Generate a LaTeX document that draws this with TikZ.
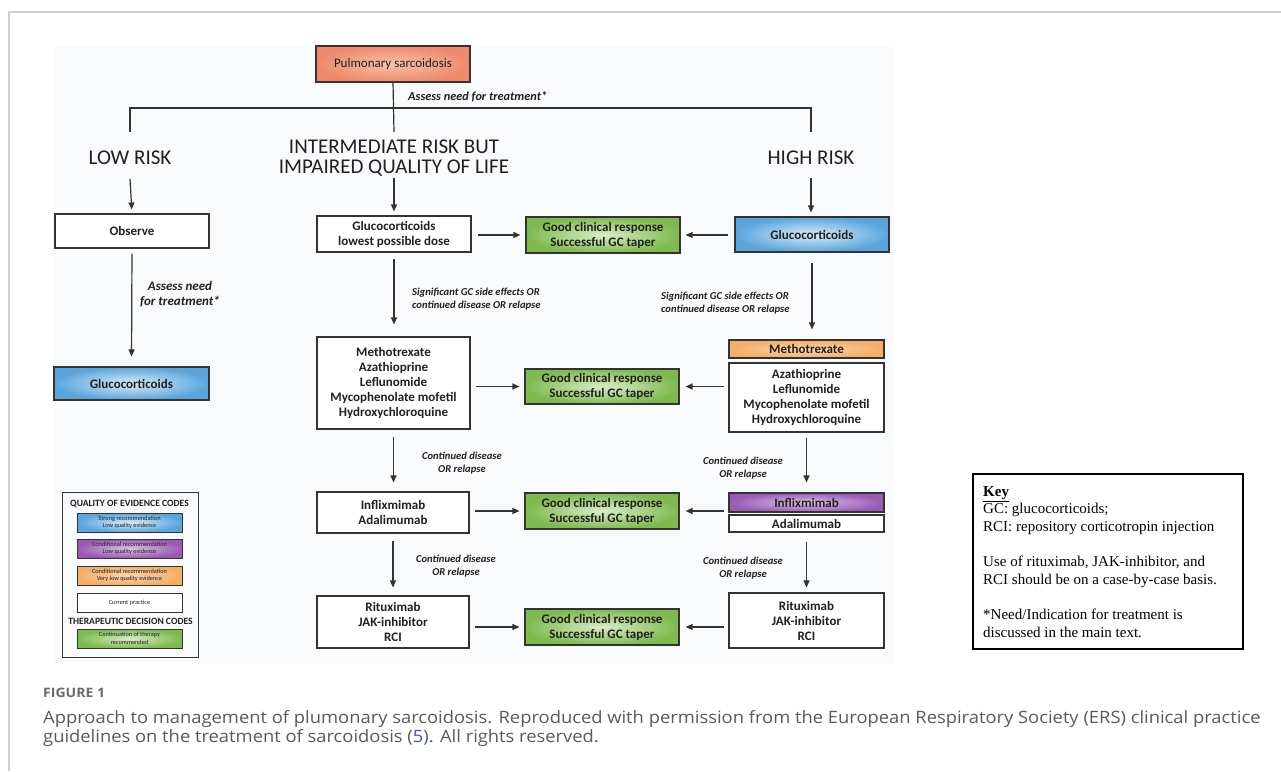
\documentclass[tikz,border=0pt]{standalone}
\usepackage{fontspec}
\setmainfont{Carlito}
\newfontfamily\keyfont{Liberation Serif}
\newfontfamily\capfont[FakeStretch=1.08]{Open Sans}
\usetikzlibrary{arrows.meta}
\newcommand\myfs[2]{\fontsize{#1}{#2}\selectfont}
\definecolor{linec}{HTML}{333333}
\definecolor{txt}{HTML}{231F20}
\definecolor{salO}{HTML}{EE8A6B}\definecolor{salI}{HTML}{F7C2AC}
\definecolor{bluO}{HTML}{5AA5DC}\definecolor{bluI}{HTML}{D9ECF9}
\definecolor{grnO}{HTML}{7EBA4E}\definecolor{grnI}{HTML}{D9EDC8}
\definecolor{orgO}{HTML}{F4AE67}\definecolor{orgI}{HTML}{FAD6B0}
\definecolor{purO}{HTML}{9A5AB4}\definecolor{purI}{HTML}{D9C2E5}
\definecolor{framec}{HTML}{CFCFCF}
\definecolor{capc}{HTML}{5A5A5A}
\definecolor{figc}{HTML}{6A6A6A}
\definecolor{linkc}{HTML}{3D55B8}
\definecolor{bgc}{HTML}{F9FAFB}
\tikzset{
  box/.style={draw=linec, line width=1.1pt, fill=white, text=txt, align=center,
    inner sep=0pt, font=\bfseries\myfs{13}{15}},
  blu/.style={inner color=bluI, outer color=bluO},
  grn/.style={inner color=grnI, outer color=grnO},
  org/.style={inner color=orgI, outer color=orgO},
  pur/.style={inner color=purI, outer color=purO},
  sal/.style={inner color=salI, outer color=salO},
  good/.style={box, grn, minimum width=154, minimum height=36},
  conn/.style={draw=linec, line width=1.2pt},
  arr/.style={conn, -{Triangle[length=7pt,width=6pt]}},
  head/.style={text=txt, align=center, font=\myfs{21}{20}, inner sep=0pt},
  lab/.style={text=txt, font=\bfseries\itshape\myfs{10.6}{13}, inner sep=0pt},
  swatch/.style={draw=linec, line width=0.8pt, minimum width=105, minimum height=19,
    inner sep=0pt, align=center, text=txt, font=\myfs{6.3}{7.5}},
  leghead/.style={text=txt, font=\bfseries\myfs{9.6}{10}, inner sep=0pt}
}
\begin{document}
\begin{tikzpicture}[x=1pt,y=-1pt]
\useasboundingbox (0,0) rectangle (1281,771);
\fill[white] (0,0) rectangle (1281,771);
\draw[framec, line width=1.3pt] (9,771) -- (9,12) -- (1281,12);
\fill[bgc] (53,47) rectangle (893,664);

% top
\node[box, sal, font=\myfs{13}{15}, minimum width=154, minimum height=36] (pulm) at (393,64) {Pulmonary sarcoidosis};
\node[lab, font=\bfseries\itshape\myfs{12.3}{14}, anchor=west] (assess) at (408,97) {Assess need for treatment*};

\node[head] (low) at (130,158) {LOW RISK};
\node[head] (mid) at (394,158) {INTERMEDIATE RISK BUT\\IMPAIRED QUALITY OF LIFE};
\node[head] (high) at (811,158) {HIGH RISK};

\coordinate (split) at (394,108);
\coordinate (midtop) at (394,132);
\coordinate (lowtop) at (130,132);
\coordinate (hightop) at (811,132);
\coordinate (lowb) at (130,179);
\coordinate (midb) at (394,178);
\coordinate (highb) at (811,178);

\draw[conn] (pulm.south) -- (midtop);
\draw[conn] (lowtop) -- (lowtop |- split) -- (hightop |- split) -- (hightop);

% boxes
\node[box, minimum width=154, minimum height=34] (obs) at (132,231) {Observe};
\node[box, blu, minimum width=155, minimum height=33] (gclow) at (131.5,383.5) {Glucocorticoids};

\node[box, minimum width=154, minimum height=36] (gcl) at (394,234) {Glucocorticoids\\lowest possible dose};
\node[box, minimum width=153, minimum height=92] (mtx) at (393.5,383) {Methotrexate\\Azathioprine\\Leflunomide\\Mycophenolate mofetil\\Hydroxychloroquine};
\node[box, minimum width=152, minimum height=41] (inf) at (393,512.5) {Inflixmimab\\Adalimumab};
\node[box, minimum width=152, minimum height=52] (rit) at (393,622) {Rituximab\\JAK-inhibitor\\RCI};

\node[good] (good1) at (603,235) {Good clinical response\\Successful GC taper};
\node[good, minimum height=35] (good2) at (602,386.5) {Good clinical response\\Successful GC taper};
\node[good] (good3) at (602,511) {Good clinical response\\Successful GC taper};
\node[good] (good4) at (602,627) {Good clinical response\\Successful GC taper};

\node[box, blu, minimum width=154, minimum height=35] (gch) at (812,234.5) {Glucocorticoids};
\node[box, org, minimum width=155, minimum height=18] (rmtxo) at (806.5,349) {Methotrexate};
\node[box, minimum width=155, minimum height=69] (rmtxw) at (806.5,397.5) {Azathioprine\\Leflunomide\\Mycophenolate mofetil\\Hydroxychloroquine};
\node[box, pur, minimum width=155, minimum height=19] (rinf) at (806.5,502.5) {Inflixmimab};
\node[box, minimum width=155, minimum height=17] (radal) at (806.5,523.5) {Adalimumab};
\node[box, minimum width=155, minimum height=55] (rrit) at (806.5,620.5) {Rituximab\\JAK-inhibitor\\RCI};

% labels
\node[lab, font=\bfseries\itshape\myfs{13}{15}, align=center] (labA) at (180,294.5) {Assess need\\for treatment*};
\node[lab, align=left, anchor=west] (labS1) at (412,299.5) {Significant GC side effects OR\\continued disease OR relapse};
\node[lab, align=left, anchor=west] (labS2) at (661,303) {Significant GC side effects OR\\continued disease OR relapse};
\node[lab, align=center] (labC1) at (462,463) {Continued disease\\OR relapse};
\node[lab, align=center] (labC2) at (456,566.5) {Continued disease\\OR relapse};
\node[lab, align=center] (labC3) at (743,468) {Continued disease\\OR relapse};
\node[lab, align=center] (labC4) at (743,568) {Continued disease\\OR relapse};

% vertical arrows
\draw[arr, shorten >=4pt] (lowb) -- (obs.north);
\draw[arr, shorten >=4pt] (midb) -- (gcl.north);
\draw[arr, shorten >=4pt] (highb) -- (highb |- gch.north);
\draw[arr, shorten <=5pt, shorten >=10pt] (obs.south) -- (gclow.north);
\draw[arr, shorten <=6pt, shorten >=12pt] (gcl.south) -- (gcl.south |- mtx.north);
\draw[arr, shorten <=7pt, shorten >=9pt] (mtx.south) -- (mtx.south |- inf.north);
\draw[arr, shorten <=7pt, shorten >=8pt] (inf.south) -- (inf.south |- rit.north);
\draw[arr, shorten <=10pt, shorten >=10pt] (gch.south) -- (gch.south |- rmtxo.north);
\draw[arr, shorten <=5pt, shorten >=10pt] (rmtxw.south) -- (rmtxw.south |- rinf.north);
\draw[arr, shorten <=9pt, shorten >=5pt] (radal.south) -- (radal.south |- rrit.north);

% horizontal arrows
\draw[arr, shorten <=6pt, shorten >=5pt] (gcl.east |- good1.west) -- (good1.west);
\draw[arr, shorten <=6pt, shorten >=5pt] (gch.west |- good1.east) -- (good1.east);
\draw[arr, shorten <=5pt, shorten >=5pt] (mtx.east |- good2.west) -- (good2.west);
\draw[arr, shorten <=4pt, shorten >=6pt] (rmtxw.west |- good2.east) -- (good2.east);
\draw[arr, shorten <=5pt, shorten >=5pt] (inf.east |- good3.west) -- (good3.west);
\draw[arr, shorten <=4pt, shorten >=6pt] (rinf.west |- good3.east) -- (good3.east);
\draw[arr, shorten <=5pt, shorten >=5pt] (rit.east |- good4.west) -- (good4.west);
\draw[arr, shorten <=4pt, shorten >=6pt] (rrit.west |- good4.east) -- (good4.east);

% legend
\node[draw=linec, line width=0.9pt, minimum width=136, minimum height=165, inner sep=0pt] (legend) at (130,574.5) {};
\node[leghead] (lh1) at (129.5,504) {QUALITY OF EVIDENCE CODES};
\node[swatch, blu] (s1) at (129.5,522.5) {Strong recommendation\\Low quality evidence};
\node[swatch, pur] (s2) at (129.5,548.5) {Conditional recommendation\\Low quality evidence};
\node[swatch, org] (s3) at (129.5,575.5) {Conditional recommendation\\Very low quality evidence};
\node[swatch, fill=white] (s4) at (129.5,603) {Current practice};
\node[leghead] (lh2) at (130.5,621) {THERAPEUTIC DECISION CODES};
\node[swatch, grn] (s5) at (129.5,638.5) {Continuation of therapy\\recommended};

% key
\node[draw=black, line width=1.3pt, minimum width=270, minimum height=175, inner sep=0pt] (key) at (1108,561.5) {};
\node[anchor=base west, align=left, inner sep=0pt, font=\keyfont\myfs{15}{17.6}, text=black] (keytext) at (983,637)
 {\underline{\textbf{Key}}\\GC: glucocorticoids;\\RCI: repository corticotropin injection\\[17.6pt]Use of rituximab, JAK-inhibitor, and\\RCI should be on a case-by-case basis.\\[17.6pt]*Need/Indication for treatment is\\discussed in the main text.};

% caption
\node[anchor=base west, inner sep=0pt, text=figc, font=\capfont\bfseries\myfs{13}{14}] (fig) at (43,697) {FIGURE 1};
\node[anchor=base west, align=left, inner sep=0pt, text=capc, font=\capfont\myfs{17}{18.5}] (cap) at (43,742)
 {Approach to management of plumonary sarcoidosis. Reproduced with permission from the European Respiratory Society (ERS) clinical practice\\guidelines on the treatment of sarcoidosis (\textcolor{linkc}{5}). All rights reserved.};
\end{tikzpicture}
\end{document}
